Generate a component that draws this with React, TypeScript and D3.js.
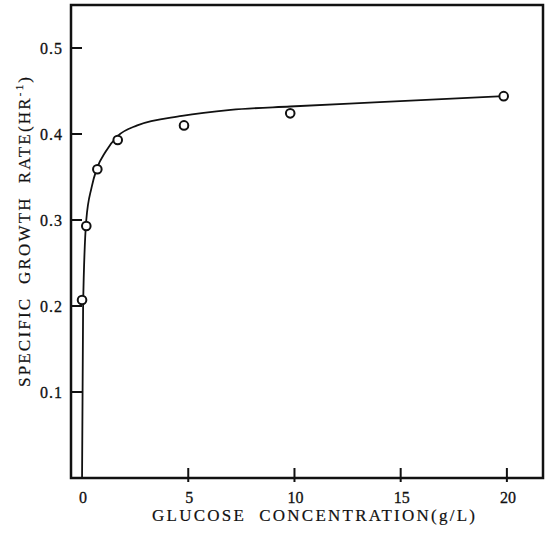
import { useRef, useEffect } from "react";
import * as d3 from "d3";

// measured points (glucose g/L, specific growth rate 1/hr)
const glucose = [0, 0.2, 0.72, 1.68, 4.8, 9.8, 19.85];
const growthRate = [0.207, 0.293, 0.359, 0.393, 0.41, 0.424, 0.444];

// fitted curve
const curveX = [0, 0.05, 0.2, 0.45, 0.7, 1.1, 1.7, 2.6, 4.7, 7, 9.8, 14, 19.85];
const curveY = [0.0, 0.2, 0.3, 0.338, 0.36, 0.379, 0.398, 0.41, 0.421, 0.428, 0.432, 0.437, 0.444];

const xTicks = [0, 5, 10, 15, 20];
const yTicks = [0.1, 0.2, 0.3, 0.4, 0.5];

const GrowthChart = () => {
  const svgRef = useRef(null);

  useEffect(() => {
    d3.select(svgRef.current).selectAll("*").remove();

    const width = 554;
    const height = 535;
    const left = 71;
    const right = 543;
    const top = 5;
    const bottom = 478;
    const font = "'Liberation Serif', 'DejaVu Serif', serif";
    const ink = "#111";

    const svg = d3
      .select(svgRef.current)
      .attr("width", width)
      .attr("height", height);

    const x = d3.scaleLinear().domain([-0.52, 21.7]).range([left, right]);
    const y = d3.scaleLinear().domain([0, 0.55]).range([bottom, top]);

    svg.append("rect").attr("width", width).attr("height", height).attr("fill", "white");

    // frame
    svg
      .append("rect")
      .attr("x", left)
      .attr("y", top)
      .attr("width", right - left)
      .attr("height", bottom - top)
      .attr("fill", "none")
      .attr("stroke", ink)
      .attr("stroke-width", 2.5);

    // y ticks (inside)
    svg
      .selectAll(".ytick")
      .data(yTicks)
      .enter()
      .append("line")
      .attr("x1", left)
      .attr("x2", left + 11)
      .attr("y1", (d) => y(d))
      .attr("y2", (d) => y(d))
      .attr("stroke", ink)
      .attr("stroke-width", 2);

    svg
      .selectAll(".ylabel")
      .data(yTicks)
      .enter()
      .append("text")
      .attr("x", 63)
      .attr("y", (d) => y(d))
      .attr("dy", "0.35em")
      .attr("text-anchor", "end")
      .style("font-family", font)
      .style("font-size", "16px")
      .style("letter-spacing", "1px")
      .attr("fill", ink)
      .attr("stroke", ink)
      .attr("stroke-width", 0.3)
      .text((d) => d3.format(".1f")(d));

    // x ticks (crossing the axis)
    svg
      .selectAll(".xtick")
      .data(xTicks.filter((d) => d > 0))
      .enter()
      .append("line")
      .attr("x1", (d) => x(d))
      .attr("x2", (d) => x(d))
      .attr("y1", bottom - 10)
      .attr("y2", bottom + 4)
      .attr("stroke", ink)
      .attr("stroke-width", 2);

    svg
      .selectAll(".xlabel")
      .data(xTicks)
      .enter()
      .append("text")
      .attr("x", (d) => x(d) + 1)
      .attr("y", 503)
      .attr("text-anchor", "middle")
      .style("font-family", font)
      .style("font-size", "16px")
      .attr("fill", ink)
      .attr("stroke", ink)
      .attr("stroke-width", 0.3)
      .text((d) => d);

    // axis titles
    svg
      .append("text")
      .attr("x", 152)
      .attr("y", 521)
      .attr("textLength", 323)
      .attr("lengthAdjust", "spacing")
      .style("white-space", "pre")
      .style("font-family", font)
      .style("font-size", "17px")
      .attr("fill", ink)
      .attr("stroke", ink)
      .attr("stroke-width", 0.2)
      .text("GLUCOSE  CONCENTRATION(g/L)");

    const yTitle = svg
      .append("text")
      .attr("transform", "translate(29.5,387) rotate(-90)")
      .attr("textLength", 310)
      .attr("lengthAdjust", "spacing")
      .style("white-space", "pre")
      .style("font-family", font)
      .style("font-size", "17px")
      .attr("fill", ink)
      .attr("stroke", ink)
      .attr("stroke-width", 0.2);
    yTitle.append("tspan").text("SPECIFIC  GROWTH  RATE(HR");
    yTitle
      .append("tspan")
      .attr("dy", -7)
      .style("font-size", "11px")
      .text("-1");
    yTitle.append("tspan").attr("dy", 7).text(")");

    // fitted curve
    const line = d3
      .line()
      .x((d) => x(d[0]))
      .y((d) => y(d[1]))
      .curve(d3.curveMonotoneX);

    svg
      .append("path")
      .datum(curveX.map((v, i) => [v, curveY[i]]))
      .attr("d", line)
      .attr("fill", "none")
      .attr("stroke", ink)
      .attr("stroke-width", 1.8);

    // data points
    svg
      .selectAll(".pt")
      .data(glucose.map((v, i) => [v, growthRate[i]]))
      .enter()
      .append("circle")
      .attr("cx", (d) => x(d[0]))
      .attr("cy", (d) => y(d[1]))
      .attr("r", 4.3)
      .attr("fill", "white")
      .attr("stroke", ink)
      .attr("stroke-width", 2);
  }, []);

  return (
    <div style={{ position: "absolute", left: 0, top: 0 }}>
      <svg ref={svgRef}></svg>
    </div>
  );
};

export default function App() {
  return <GrowthChart />;
}
